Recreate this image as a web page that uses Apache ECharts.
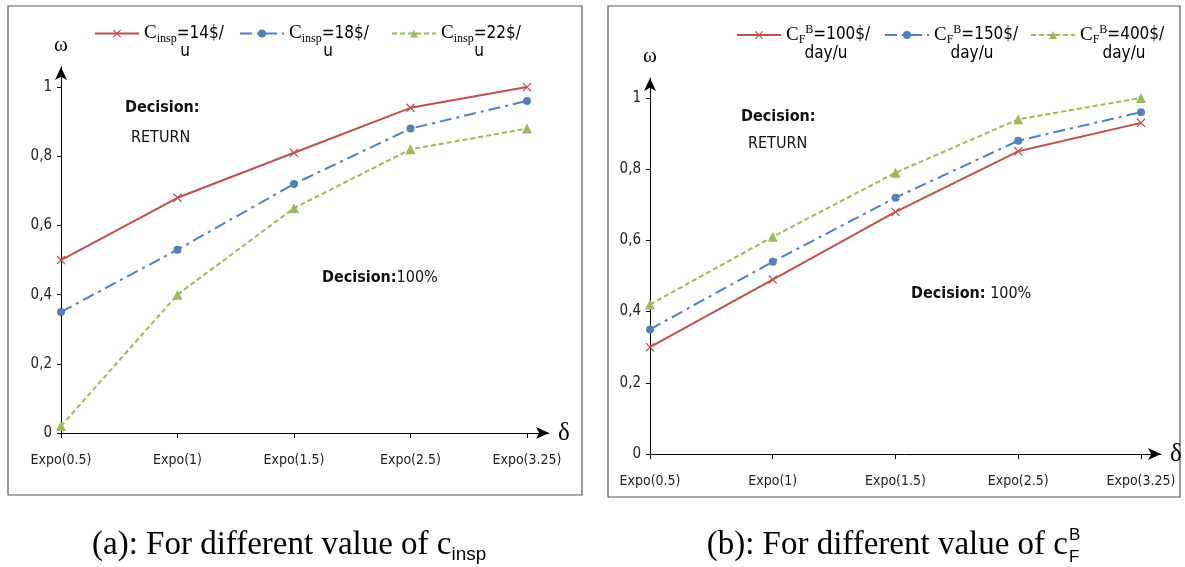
<!DOCTYPE html>
<html><head><meta charset="utf-8">
<script src="https://cdn.jsdelivr.net/npm/echarts@6/dist/echarts.min.js"></script>
<style>html,body{margin:0;padding:0;background:#fff}#c{width:1185px;height:567px}</style>
</head><body><div id="c"></div>
<script>
// ---- data ----
const categories = ['Expo(0.5)', 'Expo(1)', 'Expo(1.5)', 'Expo(2.5)', 'Expo(3.25)'];
const xTickIdx = [0, 1, 2, 3, 4];
const yTicks = [0, 0.2, 0.4, 0.6, 0.8, 1];
// panel (a): different c_insp
const leftNames = ['Cinsp=14$/u', 'Cinsp=18$/u', 'Cinsp=22$/u'];
const leftRed = [0.50, 0.68, 0.81, 0.94, 1.00];
const leftBlue = [0.35, 0.53, 0.72, 0.88, 0.96];
const leftGreen = [0.02, 0.40, 0.65, 0.82, 0.88];
// panel (b): different c_F^B
const rightNames = ['CFB=100$/day/u', 'CFB=150$/day/u', 'CFB=400$/day/u'];
const rightRed = [0.30, 0.49, 0.68, 0.85, 0.93];
const rightBlue = [0.35, 0.54, 0.72, 0.88, 0.96];
const rightGreen = [0.42, 0.61, 0.79, 0.94, 1.00];

const SANS = "'Liberation Sans Narrow','DejaVu Sans Condensed','Noto Sans',sans-serif";
const SERIF = "'Liberation Serif','DejaVu Serif',serif";
const RED = '#C0504D', BLUE = '#4F81BD', GREEN = '#9BBB59';
const X_PATH = 'path://M1,0 L5,4 L9,0 L10,1 L6,5 L10,9 L9,10 L5,6 L1,10 L0,9 L4,5 L0,1 Z';

const pts = arr => arr.map((v, i) => [i, v]);

function mkX(gi, max, padB) {
  return {
    type: 'value', gridIndex: gi, min: 0, max: max,
    axisLine: { show: true, lineStyle: { color: '#000', width: 1 }, symbol: ['none', 'arrow'], symbolSize: [9, 13] },
    axisTick: { show: true, customValues: xTickIdx, length: 5, lineStyle: { color: '#000' } },
    axisLabel: { customValues: xTickIdx, formatter: v => categories[Math.round(v)], margin: 20, fontFamily: SANS, fontSize: 14, color: '#222' },
    splitLine: { show: false },
    name: 'δ', nameLocation: 'end', nameGap: 9,
    nameTextStyle: { fontFamily: SERIF, fontSize: 25, color: '#000', padding: [0, 0, padB, 0] }
  };
}
function mkY(gi, max) {
  return {
    type: 'value', gridIndex: gi, min: 0, max: max,
    axisLine: { show: true, lineStyle: { color: '#000', width: 1 }, symbol: ['none', 'arrow'], symbolSize: [9, 13] },
    axisTick: { show: true, customValues: yTicks, length: 4, lineStyle: { color: '#000' } },
    axisLabel: { customValues: yTicks, formatter: v => String(v).replace('.', ','), margin: 9, fontFamily: SANS, fontSize: 15, color: '#222' },
    splitLine: { show: false },
    name: 'ω', nameLocation: 'end', nameGap: 11,
    nameTextStyle: { fontFamily: SERIF, fontSize: 21, color: '#000' }
  };
}
function ser(name, gi, data, color, sym, size, type, width) {
  return {
    name, type: 'line', xAxisIndex: gi, yAxisIndex: gi, data: pts(data),
    symbol: sym, symbolSize: size, showSymbol: true, clip: false,
    lineStyle: { color, width: width, type: type },
    itemStyle: { color }, emphasis: { disabled: true }
  };
}
const richLegend = {
  c: { fontFamily: SERIF, fontSize: 19, color: '#000', lineHeight: 22 },
  s: { fontFamily: SERIF, fontSize: 12, color: '#000', verticalAlign: 'bottom', lineHeight: 12 },
  p: { fontFamily: SERIF, fontSize: 12, color: '#000', verticalAlign: 'top', lineHeight: 12 },
  t: { fontFamily: SANS, fontSize: 17, color: '#000', lineHeight: 22 }
};
const legendFmt = name => {
  let m = name.match(/^Cinsp(=\d+\$\/)u$/);
  if (m) return '{c|C}{s|insp}{t|' + m[1] + '}';
  m = name.match(/^CFB(=\d+\$\/)day\/u$/);
  if (m) return '{c|C}{s|F}{p|B}{t|' + m[1] + '}';
  return name;
};
function lg(name, left, top) {
  return { data: [name], left, top, padding: 0, itemWidth: 44, itemHeight: 10, selectedMode: false,
    formatter: legendFmt, textStyle: { rich: richLegend } };
}
function txt(x, y, text, opts) {
  return { type: 'text', x, y, silent: true,
    style: Object.assign({ text, fontFamily: SANS, fontSize: 16, fill: '#111', align: 'left', verticalAlign: 'middle' }, opts || {}) };
}
const richAnn = {
  b: { fontFamily: SANS, fontSize: 16, fontWeight: 'bold', color: '#111' },
  n: { fontFamily: SANS, fontSize: 16, color: '#111' }
};

const option = {
  animation: false,
  backgroundColor: '#fff',
  grid: [
    { left: 61, top: 67, width: 488, height: 366 },
    { left: 650, top: 78, width: 511, height: 376 }
  ],
  xAxis: [mkX(0, 4.189, 8), mkX(1, 4.163, 16)],
  yAxis: [mkY(0, 1.058), mkY(1, 1.056)],
  legend: [
    lg(leftNames[0], 94, 24), lg(leftNames[1], 239, 24), lg(leftNames[2], 391, 24),
    lg(rightNames[0], 736, 24), lg(rightNames[1], 884, 24), lg(rightNames[2], 1030, 24)
  ],
  series: [
    ser(leftNames[0], 0, leftRed, RED, X_PATH, 9, 'solid', 2),
    ser(leftNames[1], 0, leftBlue, BLUE, 'circle', 8, [12, 5, 3, 5], 2),
    ser(leftNames[2], 0, leftGreen, GREEN, 'triangle', 10, [5, 3], 2),
    ser(rightNames[0], 1, rightRed, RED, X_PATH, 9, 'solid', 2),
    ser(rightNames[1], 1, rightBlue, BLUE, 'circle', 8, [12, 5, 3, 5], 2),
    ser(rightNames[2], 1, rightGreen, GREEN, 'triangle', 10, [5, 3], 2)
  ],
  graphic: [
    { type: 'rect', shape: { x: 8, y: 6, width: 574, height: 489 }, style: { fill: 'none', stroke: '#595959', lineWidth: 1.2 }, silent: true },
    { type: 'rect', shape: { x: 608, y: 6, width: 572, height: 491 }, style: { fill: 'none', stroke: '#595959', lineWidth: 1.2 }, silent: true },
    // second legend lines
    txt(185, 52, 'u', { align: 'center', fontSize: 17, fill: '#000' }),
    txt(328, 52, 'u', { align: 'center', fontSize: 17, fill: '#000' }),
    txt(479, 52, 'u', { align: 'center', fontSize: 17, fill: '#000' }),
    txt(826, 54, 'day/u', { align: 'center', fontSize: 17, fill: '#000' }),
    txt(972, 54, 'day/u', { align: 'center', fontSize: 17, fill: '#000' }),
    txt(1124, 54, 'day/u', { align: 'center', fontSize: 17, fill: '#000' }),
    // annotations (a)
    txt(125, 108, 'Decision:', { fontWeight: 'bold' }),
    txt(131, 138, 'RETURN'),
    txt(322, 278, '{b|Decision:}{n|100%}', { rich: richAnn }),
    // annotations (b)
    txt(741, 117, 'Decision:', { fontWeight: 'bold' }),
    txt(748, 144, 'RETURN'),
    txt(911, 294, '{b|Decision:} {n|100%}', { rich: richAnn }),
    // captions
    txt(92, 545, '(a): For different value of c{s|insp}', {
      fontFamily: SERIF, fontSize: 33, fill: '#000', lineHeight: 38,
      rich: { s: { fontFamily: "'Liberation Sans',sans-serif", fontSize: 19, verticalAlign: 'bottom', lineHeight: 12, fill: '#000' } }
    }),
    txt(1068, 545, '(b): For different value of c', { fontFamily: SERIF, fontSize: 33, fill: '#000', align: 'right' }),
    txt(1069, 535, 'B', { fontFamily: "'Liberation Sans',sans-serif", fontSize: 17, fill: '#000' }),
    txt(1069, 557, 'F', { fontFamily: "'Liberation Sans',sans-serif", fontSize: 17, fill: '#000' })
  ]
};
const chart = echarts.init(document.getElementById('c'), null, { renderer: 'canvas' });
chart.setOption(option);
</script>
</body></html>
